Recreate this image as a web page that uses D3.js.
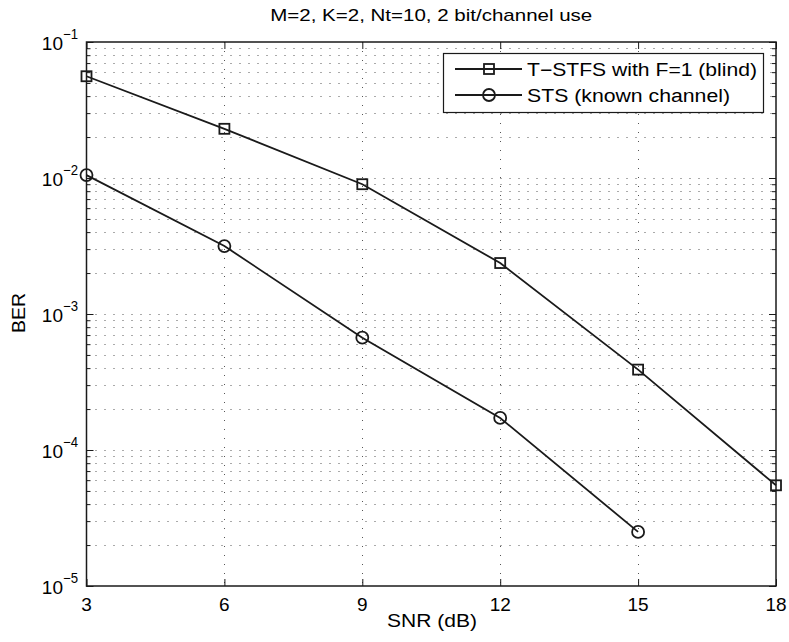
<!DOCTYPE html>
<html><head><meta charset="utf-8">
<script src="https://cdn.jsdelivr.net/npm/d3@7"></script>
<style>
body{margin:0;background:#fff;}
text{font-family:"Liberation Sans",Arial,sans-serif;fill:#000;}
</style></head>
<body>
<svg id="c" width="789" height="642"></svg>
<script>
const snr = [3, 6, 9, 12, 15, 18];
const snrSts = [3, 6, 9, 12, 15];
const berTstfs = [0.056, 0.023, 0.009, 0.00237, 0.00039, 0.000055];
const berSts = [0.0105, 0.00316, 0.00067, 0.000172, 0.000025];
const seriesNames = ["T\u2212STFS with F=1 (blind)", "STS (known channel)"];
const xTicks = [3, 6, 9, 12, 15, 18];
const yDecades = [-5, -4, -3, -2, -1];
const title = "M=2, K=2, Nt=10, 2 bit/channel use";
const xLabel = "SNR (dB)";
const yLabel = "BER";

const svg = d3.select("#c");
const L = 86.5, R = 776, T = 42, B = 586;
const x = d3.scaleLinear().domain([3, 18]).range([L, R]);
const y = d3.scaleLog().domain([1e-5, 1e-1]).range([B, T]);
const ink = "#1a1a1a";

svg.append("rect").attr("x",0).attr("y",0).attr("width",789).attr("height",642).attr("fill","#fff");

// grid
const minorY = [];
for (let d = -5; d < -1; d++) for (let m = 1; m <= 9; m++) minorY.push(m * Math.pow(10, d));
minorY.push(0.1);
const grid = svg.append("g").attr("stroke", "#555").attr("stroke-width", 1).attr("stroke-dasharray", "1,8");
grid.selectAll(".gy").data(minorY.filter(v => v > 1e-5 && v < 1e-1)).enter().append("line")
  .attr("x1", L).attr("x2", R).attr("y1", d => Math.round(y(d)) + 0.5).attr("y2", d => Math.round(y(d)) + 0.5);
grid.selectAll(".gx").data(xTicks.slice(1, -1)).enter().append("line")
  .attr("y1", T).attr("y2", B).attr("x1", d => Math.round(x(d)) + 0.5).attr("x2", d => Math.round(x(d)) + 0.5);

// axes with inside ticks
const ax = svg.append("g");
const xb = d3.axisBottom(x).tickValues(xTicks).tickSize(-7).tickFormat("").tickSizeOuter(0);
const xt = d3.axisTop(x).tickValues(xTicks).tickSize(-7).tickFormat("").tickSizeOuter(0);
ax.append("g").attr("transform", `translate(0,${B})`).call(xb);
ax.append("g").attr("transform", `translate(0,${T})`).call(xt);
const yl = d3.axisLeft(y).tickValues(minorY).tickSize(-4).tickFormat("").tickSizeOuter(0);
const yr = d3.axisRight(y).tickValues(minorY).tickSize(-4).tickFormat("").tickSizeOuter(0);
const ylM = d3.axisLeft(y).tickValues(yDecades.map(d => Math.pow(10, d))).tickSize(-7).tickFormat("").tickSizeOuter(0);
const yrM = d3.axisRight(y).tickValues(yDecades.map(d => Math.pow(10, d))).tickSize(-7).tickFormat("").tickSizeOuter(0);
ax.append("g").attr("transform", `translate(${L},0)`).call(yl);
ax.append("g").attr("transform", `translate(${R},0)`).call(yr);
ax.append("g").attr("transform", `translate(${L},0)`).call(ylM);
ax.append("g").attr("transform", `translate(${R},0)`).call(yrM);
ax.selectAll(".domain").remove();
ax.selectAll("line").attr("stroke", ink).attr("stroke-width", 1);
svg.append("rect").attr("x", L).attr("y", T).attr("width", R - L).attr("height", B - T)
  .attr("fill", "none").attr("stroke", ink).attr("stroke-width", 1.5);

// tick labels
svg.selectAll(".xl").data(xTicks).enter().append("text")
  .attr("x", d => x(d)).attr("y", B + 25).attr("text-anchor", "middle").attr("font-size", 19).text(d => d);
svg.selectAll(".yl").data(yDecades).enter().append("text")
  .attr("x", 63).attr("y", d => y(Math.pow(10, d)) + 8).attr("text-anchor", "end").attr("font-size", 19).text("10");
svg.selectAll(".ys").data(yDecades).enter().append("text")
  .attr("x", 63).attr("y", d => y(Math.pow(10, d)) - 3).attr("font-size", 14)
  .attr("textLength", 15).attr("lengthAdjust", "spacingAndGlyphs").text(d => "\u2212" + Math.abs(d));

// labels
svg.append("text").attr("x", (L + R) / 2).attr("y", 21).attr("text-anchor", "middle").attr("font-size", 17)
  .attr("textLength", 322).attr("lengthAdjust", "spacingAndGlyphs").text(title);
svg.append("text").attr("x", 432).attr("y", 627).attr("text-anchor", "middle").attr("font-size", 18)
  .attr("textLength", 90).attr("lengthAdjust", "spacingAndGlyphs").text(xLabel);
svg.append("text").attr("transform", `translate(25,313) rotate(-90)`).attr("text-anchor", "middle").attr("font-size", 18)
  .attr("textLength", 40).attr("lengthAdjust", "spacingAndGlyphs").text(yLabel);

// series
const line = d3.line().x(d => x(d[0])).y(d => y(d[1]));
const d1 = snr.map((s, i) => [s, berTstfs[i]]);
const d2 = snrSts.map((s, i) => [s, berSts[i]]);
svg.append("path").datum(d1).attr("d", line).attr("fill", "none").attr("stroke", ink).attr("stroke-width", 1.8);
svg.append("path").datum(d2).attr("d", line).attr("fill", "none").attr("stroke", ink).attr("stroke-width", 1.8);
svg.selectAll(".sq").data(d1).enter().append("rect")
  .attr("x", d => x(d[0]) - 5).attr("y", d => y(d[1]) - 5).attr("width", 10).attr("height", 10)
  .attr("fill", "none").attr("stroke", ink).attr("stroke-width", 1.8);
svg.selectAll(".ci").data(d2).enter().append("circle")
  .attr("cx", d => x(d[0])).attr("cy", d => y(d[1])).attr("r", 6)
  .attr("fill", "none").attr("stroke", ink).attr("stroke-width", 1.8);

// legend
const lg = svg.append("g");
lg.append("rect").attr("x", 443.5).attr("y", 53.5).attr("width", 320).attr("height", 59)
  .attr("fill", "#fff").attr("stroke", ink).attr("stroke-width", 1.2);
const ly = [69, 95];
const lw = [230, 203];
seriesNames.forEach((n, i) => {
  lg.append("line").attr("x1", 455).attr("x2", 522).attr("y1", ly[i]).attr("y2", ly[i]).attr("stroke", ink).attr("stroke-width", 1.8);
  if (i === 0) lg.append("rect").attr("x", 484).attr("y", ly[i] - 5).attr("width", 10).attr("height", 10).attr("fill", "none").attr("stroke", ink).attr("stroke-width", 1.8);
  else lg.append("circle").attr("cx", 489).attr("cy", ly[i]).attr("r", 6).attr("fill", "none").attr("stroke", ink).attr("stroke-width", 1.8);
  lg.append("text").attr("x", 527).attr("y", ly[i] + 6.5).attr("font-size", 18)
    .attr("textLength", lw[i]).attr("lengthAdjust", "spacingAndGlyphs").text(n);
});
</script>
</body></html>
